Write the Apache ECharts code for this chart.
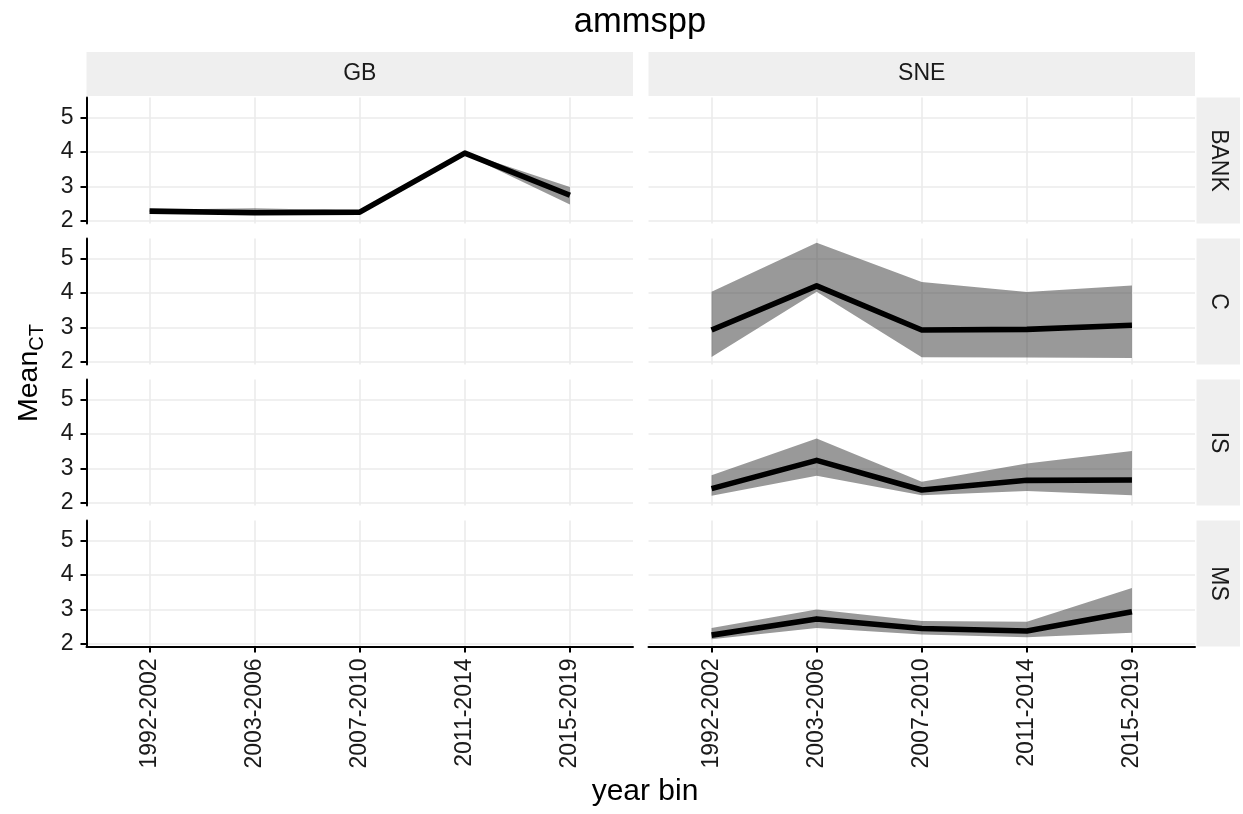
<!DOCTYPE html>
<html>
<head>
<meta charset="utf-8">
<script src="https://cdn.jsdelivr.net/npm/echarts@6/dist/echarts.min.js"></script>
<style>html,body{margin:0;padding:0;background:#fff;}#c{width:1243px;height:814px;}</style>
</head>
<body>
<div id="c"></div>
<script>
// ---- data ----
const xLabels = ['1992-2002', '2003-2006', '2007-2010', '2011-2014', '2015-2019'];
const xPos = [1, 2, 3, 4, 5];
const regions = ['GB', 'SNE'];
const strata = ['BANK', 'C', 'IS', 'MS'];
const yTicks = [2, 3, 4, 5];

const gbBankMean = [2.28, 2.23, 2.25, 3.96, 2.74];
const gbBankLo   = [2.25, 2.19, 2.21, 3.93, 2.47];
const gbBankHi   = [2.32, 2.36, 2.30, 3.99, 2.98];

const sneCMean = [2.92, 4.20, 2.92, 2.94, 3.06];
const sneCLo   = [2.14, 4.03, 2.13, 2.12, 2.11];
const sneCHi   = [4.03, 5.45, 4.31, 4.02, 4.21];

const sneISMean = [2.41, 3.23, 2.37, 2.65, 2.66];
const sneISLo   = [2.20, 2.78, 2.22, 2.34, 2.22];
const sneISHi   = [2.80, 3.86, 2.61, 3.14, 3.50];

const sneMSMean = [2.25, 2.72, 2.44, 2.37, 2.93];
const sneMSLo   = [2.13, 2.46, 2.27, 2.19, 2.32];
const sneMSHi   = [2.46, 2.99, 2.66, 2.64, 3.62];

// ---- layout ----
const FONT = '"Liberation Sans", Arial, sans-serif';
const colX = [86.5, 648.5], colW = 546.5;
const rowY = [97.5, 238.5, 379.5, 520.5], rowH = 126;
const stripTop = 52, stripH = 44;
const sideX = 1196.5, sideW = 43.5;
const YMIN = 1.92, YMAX = 5.575;
const TICK_FS = 23, STRIP_FS = 23, AXTITLE_FS = 28.5, TITLE_FS = 34.5;

const panels = [
  { r: 0, c: 0, mean: gbBankMean, lo: gbBankLo, hi: gbBankHi },
  { r: 1, c: 1, mean: sneCMean, lo: sneCLo, hi: sneCHi },
  { r: 2, c: 1, mean: sneISMean, lo: sneISLo, hi: sneISHi },
  { r: 3, c: 1, mean: sneMSMean, lo: sneMSLo, hi: sneMSHi }
];

const grid = [], xAxis = [], yAxis = [], series = [], graphic = [];
for (let r = 0; r < 4; r++) {
  for (let c = 0; c < 2; c++) {
    const gi = grid.length;
    const bottom = r === 3;
    const left = c === 0;
    grid.push({ left: colX[c], top: rowY[r], width: colW, height: rowH, containLabel: false });
    xAxis.push({
      type: 'value', gridIndex: gi, min: 0.4, max: 5.6,
      axisLine: { show: bottom, onZero: false, lineStyle: { color: '#000', width: 2 } },
      axisTick: { show: bottom, length: 6, lineStyle: { color: '#000', width: 2 }, customValues: xPos },
      axisLabel: {
        show: bottom, rotate: 90, margin: 12, fontSize: TICK_FS, color: '#1a1a1a', fontFamily: FONT,
        customValues: xPos,
        formatter: v => (Number.isInteger(v) && xLabels[v - 1]) ? xLabels[v - 1] : ''
      },
      splitLine: { show: true, lineStyle: { color: '#ebebeb', width: 1.6 } }
    });
    yAxis.push({
      type: 'value', gridIndex: gi, min: YMIN, max: YMAX,
      axisLine: { show: left, onZero: false, lineStyle: { color: '#000', width: 2 } },
      axisTick: { show: left, length: 6, lineStyle: { color: '#000', width: 2 }, customValues: yTicks },
      axisLabel: {
        show: left, margin: 13, fontSize: TICK_FS, color: '#1a1a1a', fontFamily: FONT,
        customValues: yTicks,
        formatter: v => (Number.isInteger(v) ? String(v) : '')
      },
      splitLine: { show: true, lineStyle: { color: '#ebebeb', width: 1.6 } }
    });
  }
}

panels.forEach(p => {
  const gi = p.r * 2 + p.c;
  series.push({
    type: 'custom', xAxisIndex: gi, yAxisIndex: gi, clip: true, z: 2,
    data: xPos.map((x, i) => [x, p.lo[i], p.hi[i]]),
    encode: { x: 0, y: [1, 2] },
    renderItem: (params, api) => {
      if (params.dataIndex !== 0) return null;
      const pts = [];
      for (let i = 0; i < xPos.length; i++) pts.push(api.coord([xPos[i], p.hi[i]]));
      for (let i = xPos.length - 1; i >= 0; i--) pts.push(api.coord([xPos[i], p.lo[i]]));
      return { type: 'polygon', shape: { points: pts }, style: { fill: 'rgba(51,51,51,0.5)' } };
    },
    silent: true
  });
  series.push({
    type: 'line', xAxisIndex: gi, yAxisIndex: gi, z: 3,
    data: xPos.map((x, i) => [x, p.mean[i]]),
    showSymbol: false, symbol: 'none',
    lineStyle: { color: '#000', width: 5.6, join: 'round', cap: 'butt' },
    silent: true
  });
});

// strips
regions.forEach((name, c) => {
  graphic.push({ type: 'rect', shape: { x: colX[c], y: stripTop, width: colW, height: stripH }, style: { fill: '#efefef' }, silent: true });
  graphic.push({ type: 'text', x: colX[c] + colW / 2, y: stripTop + stripH / 2,
    style: { text: name, fontSize: STRIP_FS, fill: '#1a1a1a', fontFamily: FONT, align: 'center', verticalAlign: 'middle' }, silent: true });
});
strata.forEach((name, r) => {
  graphic.push({ type: 'rect', shape: { x: sideX, y: rowY[r], width: sideW, height: rowH }, style: { fill: '#efefef' }, silent: true });
  graphic.push({ type: 'text', x: sideX + sideW / 2, y: rowY[r] + rowH / 2, rotation: -Math.PI / 2,
    style: { text: name, fontSize: STRIP_FS, fill: '#1a1a1a', fontFamily: FONT, align: 'center', verticalAlign: 'middle' }, silent: true });
});
// titles
graphic.push({ type: 'text', x: 640, y: 22,
  style: { text: 'ammspp', fontSize: TITLE_FS, fill: '#000', fontFamily: FONT, align: 'center', verticalAlign: 'middle' }, silent: true });
graphic.push({ type: 'text', x: 645, y: 792,
  style: { text: 'year bin', fontSize: 30, fill: '#000', fontFamily: FONT, align: 'center', verticalAlign: 'middle' }, silent: true });
graphic.push({ type: 'text', x: 29, y: 373, rotation: Math.PI / 2,
  style: {
    text: '{m|Mean}{s|CT}', align: 'center', verticalAlign: 'middle',
    rich: {
      m: { fontSize: AXTITLE_FS, fill: '#000', fontFamily: FONT, lineHeight: 36, verticalAlign: 'middle' },
      s: { fontSize: 20, fill: '#000', fontFamily: FONT, lineHeight: 14, verticalAlign: 'bottom' }
    }
  }, silent: true });

const chart = echarts.init(document.getElementById('c'), null, { renderer: 'canvas' });
chart.setOption({
  backgroundColor: '#fff',
  animation: false,
  grid, xAxis, yAxis, series, graphic
});
</script>
</body>
</html>
